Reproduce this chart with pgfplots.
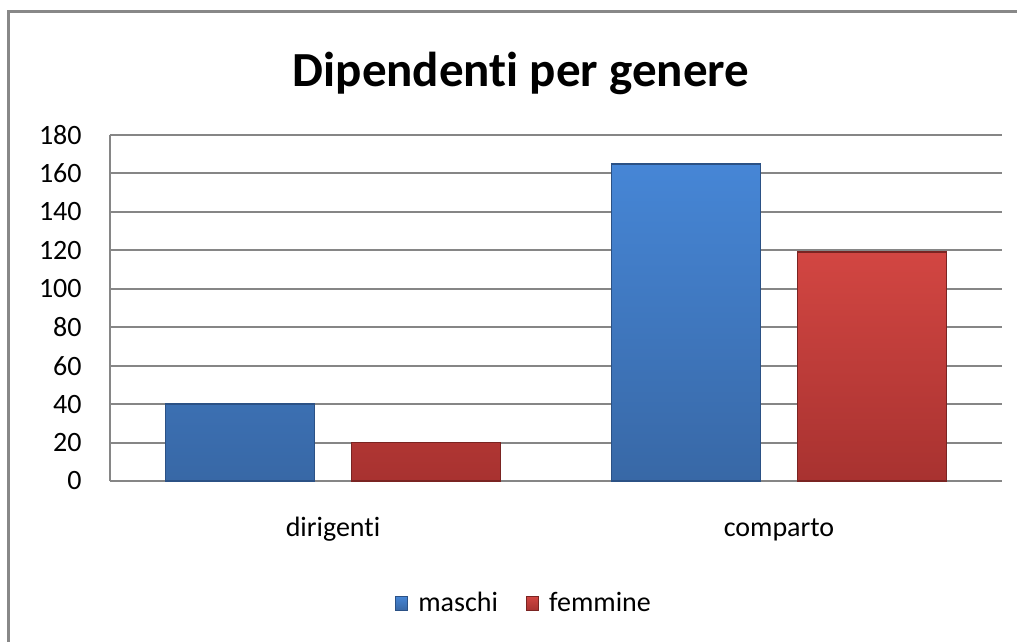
\documentclass[border=0pt]{standalone}
\usepackage{fontspec}
\setmainfont{Carlito}[Ligatures=NoCommon]
\usepackage{pgfplots}
\pgfplotsset{compat=1.18}

\definecolor{gridgray}{HTML}{868686}
\definecolor{frame}{HTML}{888888}
\definecolor{bluetop}{HTML}{4686D6}
\definecolor{bluebot}{HTML}{3868A6}
\definecolor{blueedge}{HTML}{2B5185}
\definecolor{redtop}{HTML}{D24642}
\definecolor{redbot}{HTML}{A83230}
\definecolor{rededge}{HTML}{7A2422}

\newcommand{\lbl}{\fontsize{14bp}{17bp}\selectfont}

\begin{document}
\begin{tikzpicture}
  % page = 1017 x 642 px at 0.5bp per px, axis corner at (110,481)
  \path[use as bounding box] (-55bp,-80.5bp) rectangle (453.5bp,240.5bp);
  \draw[frame, line width=1.5bp] (-50.5bp,-90bp) -- (-50.5bp,234.5bp) -- (460bp,234.5bp);

  \node[anchor=base, font=\bfseries\fontsize{24.5bp}{30bp}\selectfont] at (205.5bp,197bp) {Dipendenti per genere};

  \begin{axis}[
    scale only axis, width=446bp, height=173bp,
    ybar,
    xmin=-0.5, xmax=1.5, ymin=0, ymax=180,
    xtick={0,1}, xticklabels={dirigenti, comparto},
    ytick={0,20,...,180},
    axis lines*=left,
    axis line style={draw=gridgray, line width=1bp},
    ymajorgrids, grid style={draw=gridgray, line width=1bp},
    major tick length=0pt,
    xtick style={draw=none}, ytick style={draw=none},
    /pgf/number format/assume math mode=true,
    tick label style={font=\lbl},
    yticklabel style={anchor=east, inner sep=0pt, xshift=-14bp},
    xticklabel style={anchor=base, inner sep=0pt, yshift=-27.5bp},
    bar width=0.334,
    legend columns=2,
    legend style={at={(0.4652,-0.3526)}, anchor=center, draw=none, font=\lbl,
      /tikz/every even column/.append style={column sep=12bp}},
    legend image code/.code={\draw[#1, line width=0.4bp] (0bp,-3.5bp) rectangle (6bp,3.5bp); \path (9bp,0bp);},
  ]
    \addplot[bar shift=-0.2085, top color=bluetop, bottom color=bluebot, draw=blueedge, line width=0.8bp]
      coordinates {(0,40) (1,165)};
    \addplot[bar shift=0.2085, top color=redtop, bottom color=redbot, draw=rededge, line width=0.8bp]
      coordinates {(0,20) (1,119)};
    \legend{maschi, femmine}
  \end{axis}
\end{tikzpicture}
\end{document}
